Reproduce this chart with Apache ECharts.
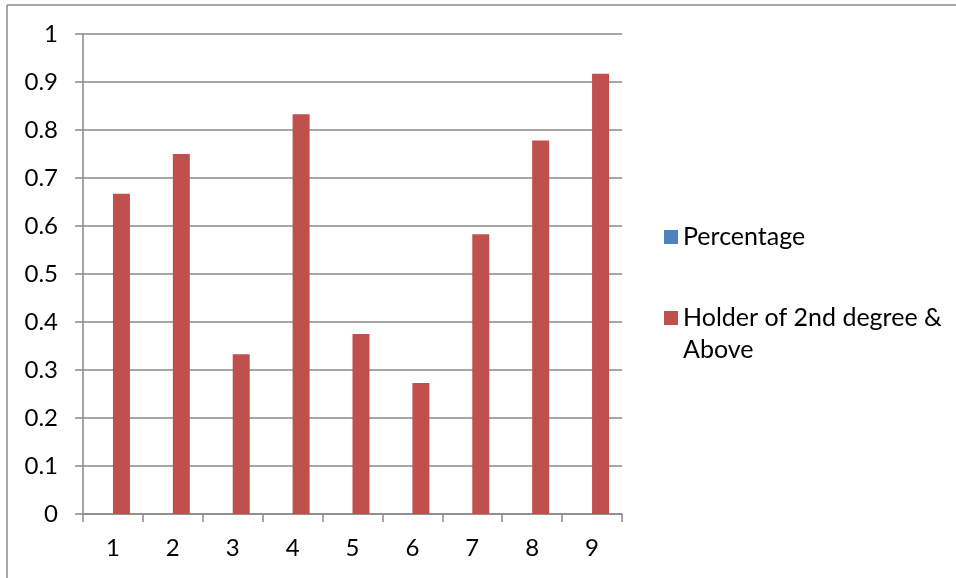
<!DOCTYPE html>
<html>
<head>
<meta charset="utf-8">
<script src="https://cdn.jsdelivr.net/npm/echarts@6/dist/echarts.min.js"></script>
<style>
  html, body { margin: 0; padding: 0; background: #fff; }
  #chart { width: 956px; height: 578px; }
</style>
</head>
<body>
<div id="chart"></div>
<script>
// Category labels along the x axis
const categories = ['1', '2', '3', '4', '5', '6', '7', '8', '9'];
// Share of respondents per group (empty series kept for the legend slot)
const percentage = [null, null, null, null, null, null, null, null, null];
// Share holding a 2nd degree or higher
const secondDegree = [0.667, 0.75, 0.333, 0.833, 0.375, 0.273, 0.583, 0.778, 0.917];
// Y axis range
const yMin = 0, yMax = 1, yStep = 0.1;

const FONT = 'Lato, "Open Sans", sans-serif';
const FONT_SIZE = 24;
const LEGEND_FONT_SIZE = 25;
const gridColor = '#898989';

const chart = echarts.init(document.getElementById('chart'), null, { renderer: 'canvas' });

chart.setOption({
  animation: false,
  backgroundColor: '#fff',
  textStyle: { fontFamily: FONT },
  graphic: [
    { type: 'line', shape: { x1: 7, y1: 5, x2: 956, y2: 5 }, style: { stroke: '#8a8a8a', lineWidth: 1.5 } },
    { type: 'line', shape: { x1: 7, y1: 5, x2: 7, y2: 578 }, style: { stroke: '#8a8a8a', lineWidth: 1.5 } }
  ],
  grid: { left: 83, right: 334, top: 34, bottom: 64, containLabel: false },
  legend: [
    {
      left: 664, top: 223, padding: 0, orient: 'vertical', itemWidth: 14, itemHeight: 14,
      icon: 'rect',
      data: ['Percentage'],
      textStyle: { fontFamily: FONT, fontSize: LEGEND_FONT_SIZE, color: '#000', lineHeight: 28 }
    },
    {
      // leading blank line keeps the first text line level with the swatch
      left: 664, top: 270, padding: 0, orient: 'vertical', itemWidth: 14, itemHeight: 14,
      icon: 'rect',
      data: ['Holder of 2nd degree & Above'],
      formatter: () => ' \nHolder of 2nd degree &\nAbove',
      textStyle: { fontFamily: FONT, fontSize: LEGEND_FONT_SIZE, color: '#000', lineHeight: 32 }
    }
  ],
  xAxis: {
    type: 'category',
    data: categories,
    boundaryGap: true,
    axisLine: { lineStyle: { color: gridColor, width: 1.5 } },
    axisTick: { show: true, length: 8, lineStyle: { color: gridColor, width: 1.5 } },
    axisLabel: { fontFamily: FONT, fontSize: FONT_SIZE, color: '#000', margin: 22 }
  },
  yAxis: {
    type: 'value',
    min: yMin, max: yMax, interval: yStep,
    axisLine: { show: true, lineStyle: { color: gridColor, width: 1.5 } },
    axisTick: { show: true, length: 8, lineStyle: { color: gridColor, width: 1.5 } },
    splitLine: { lineStyle: { color: gridColor, width: 1.5 } },
    axisLabel: {
      fontFamily: FONT, fontSize: FONT_SIZE, color: '#000', margin: 25,
      formatter: v => String(Math.round(v * 10) / 10)
    }
  },
  series: [
    {
      name: 'Percentage', type: 'bar', data: percentage,
      barWidth: 17, barGap: '0%',
      itemStyle: { color: '#4f81bd' }
    },
    {
      name: 'Holder of 2nd degree & Above', type: 'bar', data: secondDegree,
      barWidth: 17, barGap: '0%',
      itemStyle: { color: '#c0504d' }
    }
  ]
});
</script>
</body>
</html>
